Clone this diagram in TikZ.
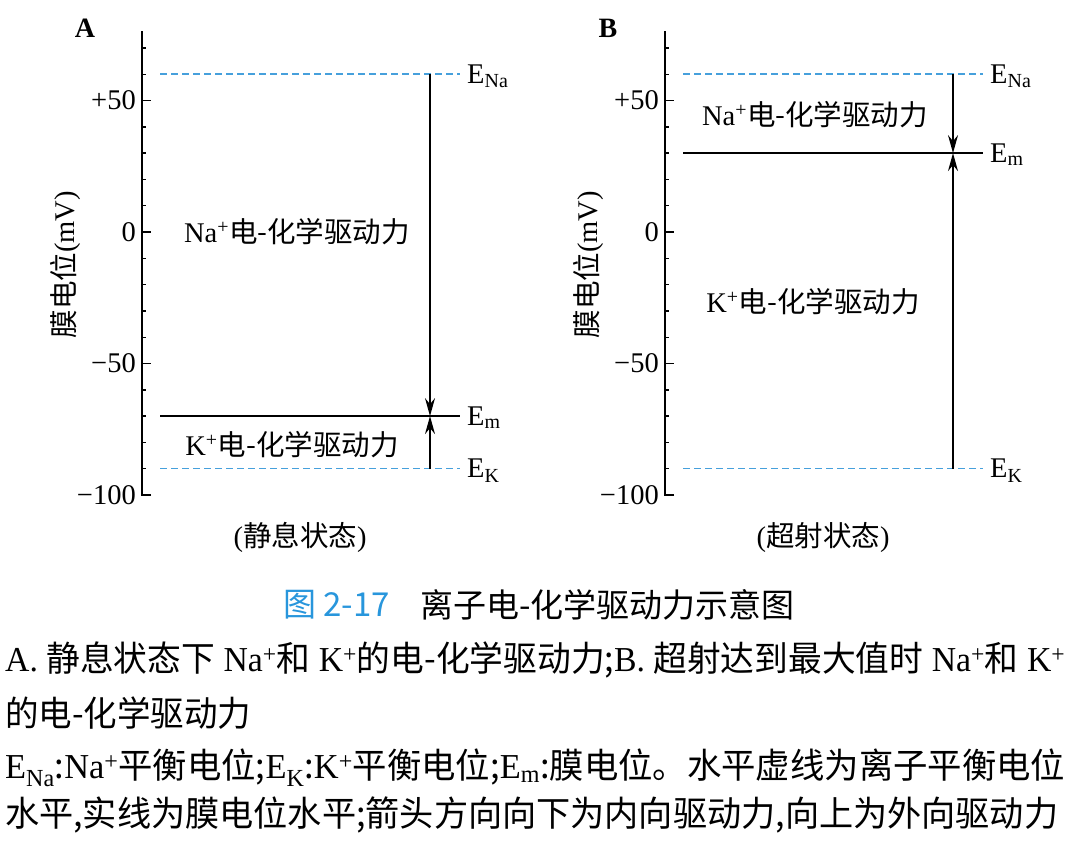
\documentclass[tikz,border=0pt]{standalone}
\usepackage{graphicx}
\usepackage{fontspec}
\setmainfont{Liberation Serif}
\newfontfamily\cjk{Noto Sans CJK SC}
\usetikzlibrary{arrows.meta}
\definecolor{dashblue}{RGB}{70,160,220}
\definecolor{capblue}{RGB}{40,150,220}
\newcommand{\zh}[1]{{\cjk #1}}
\newcommand{\fitline}[2]{\resizebox{#1}{\height}{#2}}
\newcommand{\figfont}{\fontsize{28.5}{32}\selectfont}
\newcommand{\capfont}{\fontsize{35}{40}\selectfont}
\tikzset{
  level/.style={dash pattern=on 7pt off 4pt, color=dashblue, line width=1.5pt},
  vmline/.style={line width=1.5pt},
  drive/.style={line width=1.4pt, -{Stealth[length=18pt,width=10pt,inset=6pt]}},
  lab/.style={inner sep=0pt, font=\figfont},
  capline/.style={inner sep=0pt, anchor=west, font=\capfont},
}
\begin{document}
\begin{tikzpicture}[x=1pt,y=-1pt]
\useasboundingbox (0,0) rectangle (1074,841);
% edit here for the two panels: shift/tag/E_m/state/label positions
\foreach \dx/\pan/\vm/\state/\nax/\nay/\kx/\ky in {0/A/-70/静息状态/155/0/150/-81, 523/B/30/超射状态/150/44.5/148/-26.6}{
\begin{scope}[shift={(142+\dx,232)}, y=2.63pt]
\draw[line width=1.6pt] (9,-100) -- (0,-100) -- (0,76.5); % axis
\foreach \t in {-90,-80,...,70}
  \draw[line width=1.4pt] (0,\t) -- (4,\t);
\foreach \t/\txt in {50/+50,0/0,-50/−50,-100/−100}{
  \draw[line width=1.4pt] (0,\t) -- (9,\t);
  \node[lab, anchor=east] (tick\pan\t) at (-6,\t) {\txt};}
\node[lab, font=\fontsize{28}{30}\selectfont\bfseries] (tag\pan) at (-57,77.5) {\pan};
\node[lab, rotate=90] (ylab\pan) at (-77,-12.5) {\zh{膜电位}(mV)};
\node[lab] (state\pan) at (158,-116) {(\zh{\state})};
% levels
\draw[level] (18,60) -- (318,60);
\draw[level] (18,-90) -- (318,-90);
\draw[vmline] (18,\vm) -- (318,\vm);
\node[lab, anchor=base west, yshift=-9pt] (ena\pan) at (325,60) {E\textsubscript{Na}};
\node[lab, anchor=base west, yshift=-9pt] (em\pan) at (325,\vm) {E\textsubscript{m}};
\node[lab, anchor=base west, yshift=-9pt] (ek\pan) at (325,-90) {E\textsubscript{K}};
% driving forces
\coordinate (na\pan) at (288,60);
\coordinate (m\pan) at (288,\vm);
\coordinate (k\pan) at (288,-90);
\draw[drive] (na\pan) -- (m\pan);
\draw[drive] (k\pan) -- (m\pan);
\node[lab] (nadrive\pan) at (\nax,\nay) {Na\textsuperscript{+}\zh{电-化学驱动力}};
\node[lab] (kdrive\pan) at (\kx,\ky) {K\textsuperscript{+}\zh{电-化学驱动力}};
\end{scope}}
% caption
\node[capline, font=\fontsize{33}{38}\selectfont, text=capblue] (fignum) at (283,605) {\zh{图 2-17}};
\node[capline, font=\fontsize{33}{38}\selectfont] (figtitle) at (420,605) {\zh{离子电-化学驱动力示意图}};
\node[capline] (note1) at (5,660) {\fitline{1060pt}{A.\ \zh{静息状态下} Na\textsuperscript{+}\zh{和} K\textsuperscript{+}\zh{的电-化学驱动力;}B.\ \zh{超射达到最大值时} Na\textsuperscript{+}\zh{和} K\textsuperscript{+}}};
\node[capline] (note2) at (5,713) {\fitline{246pt}{\zh{的电-化学驱动力}}};
\node[capline] (note3) at (5,768) {\fitline{1060pt}{E\textsubscript{Na}\zh{:}Na\textsuperscript{+}\zh{平衡电位;}E\textsubscript{K}\zh{:}K\textsuperscript{+}\zh{平衡电位;}E\textsubscript{m}\zh{:膜电位。水平虚线为离子平衡电位}}};
\node[capline] (note4) at (5,815) {\fitline{1053pt}{\zh{水平,实线为膜电位水平;箭头方向向下为内向驱动力,向上为外向驱动力}}};
\end{tikzpicture}
\end{document}
